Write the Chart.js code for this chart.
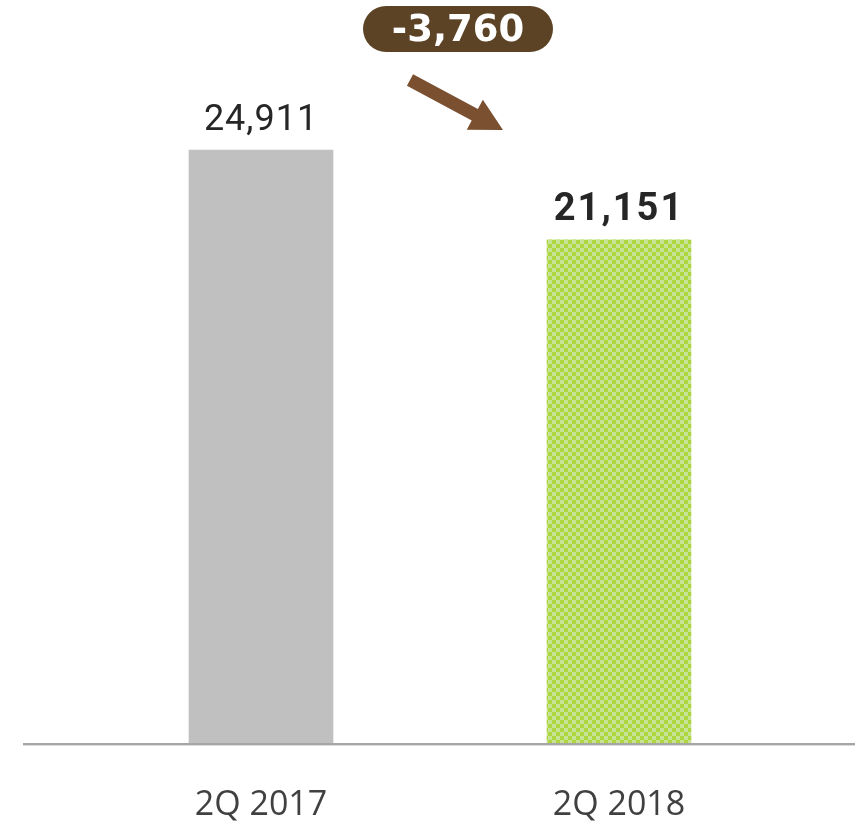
<!DOCTYPE html>
<html>
<head>
<meta charset="utf-8">
<script src="https://cdn.jsdelivr.net/npm/chart.js@4.4.1/dist/chart.umd.min.js"></script>
<style>
  html, body { margin: 0; padding: 0; background: #fff; }
  #wrap { width: 856px; height: 824px; }
</style>
</head>
<body>
<div id="wrap"><canvas id="bars"></canvas></div>
<script>
const periods = ["2Q 2017", "2Q 2018"];
const volumes = [24911, 21151];

const ctx = document.getElementById("bars").getContext("2d");

// small checkerboard fill for the current quarter
function checkerFill() {
    const tile = document.createElement("canvas");
    tile.width = 8;
    tile.height = 8;
    const t = tile.getContext("2d");
    t.fillStyle = "#c7e396";
    t.fillRect(0, 0, 8, 8);
    t.fillStyle = "#aed63f";
    t.fillRect(0, 0, 4, 4);
    t.fillRect(4, 4, 4, 4);
    return ctx.createPattern(tile, "repeat");
}

function fmt(n) {
    return n.toLocaleString("en-US");
}

// value above each bar, first one regular, last one bold
const valueLabels = {
    id: "valueLabels",
    afterDatasetsDraw(chart) {
        const c = chart.ctx;
        const bars = chart.getDatasetMeta(0).data;
        c.save();
        c.textAlign = "center";
        c.textBaseline = "alphabetic";
        c.fillStyle = "#262626";
        bars.forEach((bar, i) => {
            const last = i === bars.length - 1;
            c.font = last ? "bold 38px Roboto" : "36px Roboto";
            c.letterSpacing = last ? "2px" : "1px";
            c.fillText(fmt(volumes[i]), bar.x, bar.y - 20);
        });
        c.restore();
    }
};

// long baseline running past the plot area
const baseline = {
    id: "baseline",
    afterDatasetsDraw(chart) {
        const c = chart.ctx;
        const y = chart.scales.y.getPixelForValue(0);
        c.save();
        c.fillStyle = "#a6a6a6";
        c.fillRect(23, y - 1, 832, 2);
        c.fillStyle = "#dcdcdc";
        c.fillRect(23, y + 1, 832, 1);
        c.restore();
    }
};

// change badge and down arrow between the two bars
const changeBadge = {
    id: "changeBadge",
    afterDraw(chart) {
        const c = chart.ctx;
        const bars = chart.getDatasetMeta(0).data;
        const mid = (bars[0].x + bars[1].x) / 2;
        const diff = volumes[1] - volumes[0];

        // pill
        const w = 190, h = 46, cx = mid + 18, cy = 29;
        c.save();
        c.fillStyle = "#5c4325";
        c.beginPath();
        c.roundRect(cx - w / 2, cy - h / 2, w, h, h / 2);
        c.fill();
        c.fillStyle = "#ffffff";
        c.font = "bold 37px 'DejaVu Sans'";
        c.textAlign = "center";
        c.textBaseline = "middle";
        c.fillText((diff < 0 ? "-" : "+") + fmt(Math.abs(diff)), cx, cy + 2);

        // arrow
        const x0 = mid - 30, y0 = 80, x1 = mid + 63, y1 = 130;
        const len = Math.hypot(x1 - x0, y1 - y0);
        const ux = (x1 - x0) / len, uy = (y1 - y0) / len;
        const px = -uy, py = ux;
        const headLen = 32, headHalf = 17, shaftHalf = 6.5;
        const bx = x1 - ux * headLen, by = y1 - uy * headLen;
        c.fillStyle = "#7a5030";
        c.beginPath();
        c.moveTo(x0 + px * shaftHalf, y0 + py * shaftHalf);
        c.lineTo(bx + px * shaftHalf, by + py * shaftHalf);
        c.lineTo(bx + px * headHalf, by + py * headHalf);
        c.lineTo(x1, y1);
        c.lineTo(bx - px * headHalf, by - py * headHalf);
        c.lineTo(bx - px * shaftHalf, by - py * shaftHalf);
        c.lineTo(x0 - px * shaftHalf, y0 - py * shaftHalf);
        c.closePath();
        c.fill();
        c.restore();
    }
};

new Chart(ctx, {
    type: "bar",
    data: {
        labels: periods,
        datasets: [{
            data: volumes,
            backgroundColor: ["#c0c0c0", checkerFill()],
            borderWidth: 0,
            barThickness: 144
        }]
    },
    options: {
        responsive: true,
        maintainAspectRatio: false,
        animation: false,
        layout: {
            padding: { top: 28.8, left: 82, right: 58, bottom: 0 }
        },
        plugins: {
            legend: { display: false },
            tooltip: { enabled: false }
        },
        scales: {
            x: {
                grid: { display: false, drawTicks: false },
                border: { display: false },
                ticks: {
                    padding: 41,
                    color: "#404040",
                    font: { family: "'Open Sans'", size: 34 }
                },
                afterFit(scale) {
                    scale.height = 80;
                }
            },
            y: {
                display: false,
                min: 0,
                max: 30000
            }
        }
    },
    plugins: [valueLabels, baseline, changeBadge]
});
</script>
</body>
</html>
